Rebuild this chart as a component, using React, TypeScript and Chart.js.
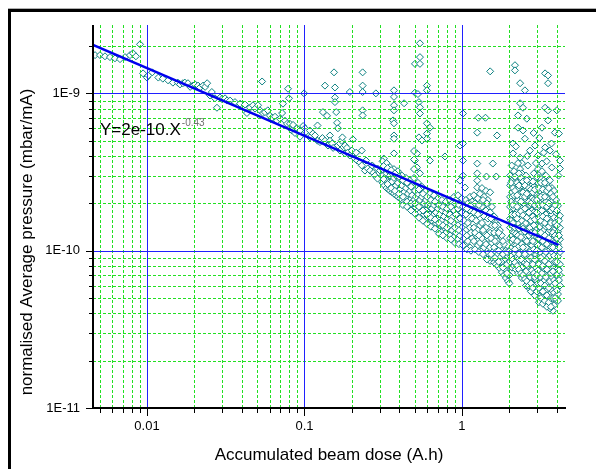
import React, { useEffect, useRef } from 'react';
import { Chart, registerables } from 'chart.js';

Chart.register(...registerables);

// ---------- axes ----------
const X_MIN = 0.00454;
const X_MAX = 4.51;
const Y_MIN = 1e-11;
const Y_MAX = 2.72e-9;

const xTickValues = [
  0.005, 0.006, 0.007, 0.008, 0.009, 0.01, 0.02, 0.03, 0.04, 0.05, 0.06, 0.07, 0.08, 0.09,
  0.1, 0.2, 0.3, 0.4, 0.5, 0.6, 0.7, 0.8, 0.9, 1, 2, 3, 4,
];
const xMajorTicks = [0.01, 0.1, 1];
const xMajorLabels = ['0.01', '0.1', '1'];

const yTickValues = [
  1e-11, 2e-11, 3e-11, 4e-11, 5e-11, 6e-11, 7e-11, 8e-11, 9e-11,
  1e-10, 2e-10, 3e-10, 4e-10, 5e-10, 6e-10, 7e-10, 8e-10, 9e-10,
  1e-9, 2e-9,
];
const yMajorTicks = [1e-11, 1e-10, 1e-9];
const yMajorLabels = ['1E-11', '1E-10', '1E-9'];

const xTitle = 'Accumulated beam dose (A.h)';
const yTitle = 'normalised Average pressure (mbar/mA)';
const fitLabel = 'Y=2e-10.X';
const fitExponent = '-0.43';

// fitted power law, end points (dose A.h, pressure mbar/mA)
const fitDose = [0.00454, 4.1];
const fitPressure = [2.03e-9, 1.09e-10];

// ---------- measured points: [dose (A.h), pressure (1e-10 mbar/mA)] ----------
const earlyPoints: [number, number][] = [
  [0.00468, 17.5], [0.00503, 17.5], [0.00541, 17.2], [0.00582, 17.0], [0.00626, 16.7], [0.00674, 16.5],
  [0.00725, 17.0], [0.0078, 17.5], [0.00814, 18.0], [0.0085, 17.2], [0.00903, 20.5], [0.00944, 13.4],
  [0.01, 12.6], [0.0102, 13.0], [0.0108, 13.6], [0.0118, 12.6], [0.0126, 12.4], [0.0136, 12.1],
  [0.0146, 11.7], [0.0157, 11.7], [0.0162, 11.4], [0.0169, 11.6], [0.0174, 11.7], [0.0182, 11.6],
  [0.0188, 11.0], [0.0196, 11.2], [0.0202, 11.4], [0.0211, 11.2], [0.0217, 10.9], [0.0227, 11.2],
  [0.0234, 11.0], [0.0241, 11.6], [0.0251, 9.7], [0.0258, 10.2], [0.027, 9.3], [0.0278, 8.1],
  [0.0291, 9.4], [0.0299, 9.2], [0.0313, 9.3], [0.0322, 9.0], [0.0337, 9.0],
  [0.0362, 8.8], [0.039, 8.6], [0.0419, 8.5], [0.0431, 7.5], [0.0451, 8.1], [0.0471, 8.4],
  [0.0485, 8.0], [0.0507, 8.4], [0.0522, 7.8], [0.0538, 11.9], [0.0545, 7.5], [0.0561, 7.6],
  [0.0585, 7.8], [0.0604, 7.2], [0.0622, 7.0], [0.065, 7.1], [0.0669, 6.7], [0.0699, 6.9],
  [0.0721, 7.5], [0.073, 8.6], [0.0752, 6.7], [0.0775, 6.4], [0.0786, 10.7], [0.0797, 9.3],
  [0.0809, 6.4], [0.0833, 5.8], [0.0846, 6.3], [0.087, 5.6], [0.0896, 6.0], [0.0936, 5.3],
  [0.0936, 5.8], [0.098, 6.2], [0.0994, 10.0], [0.1007, 6.0], [0.1022, 5.7],
];

const midPoints: [number, number][] = [
  [0.1083, 5.25], [0.1083, 5.8], [0.113, 5.55], [0.1166, 5.4], [0.121, 6.25], [0.121, 5.0],
  [0.1254, 4.9], [0.13, 5.2], [0.131, 7.6], [0.1349, 11.2], [0.1349, 5.0], [0.139, 7.2],
  [0.141, 4.66], [0.1451, 5.4], [0.1451, 5.0], [0.15, 4.8], [0.152, 4.5], [0.154, 13.6],
  [0.1561, 10.9], [0.1561, 9.4], [0.1561, 8.8], [0.159, 7.6], [0.161, 6.5], [0.163, 6.0],
  [0.163, 4.66], [0.168, 4.8], [0.168, 4.33], [0.172, 5.0], [0.174, 5.25], [0.181, 4.15],
  [0.181, 4.66], [0.186, 4.5], [0.188, 4.2], [0.194, 10.2], [0.194, 4.03], [0.2, 4.33],
  [0.203, 5.1], [0.209, 3.85], [0.213, 4.2], [0.216, 3.74], [0.225, 3.63], [0.231, 4.33],
  [0.231, 3.48], [0.234, 13.6], [0.234, 11.2], [0.234, 10.2], [0.234, 7.8], [0.234, 7.24],
  [0.242, 3.23], [0.246, 3.74], [0.252, 3.33], [0.261, 3.23], [0.269, 3.48], [0.273, 3.12],
  [0.28, 3.0], [0.284, 10.0], [0.291, 3.33], [0.291, 2.87], [0.302, 3.23],
];

const spikePoints: [number, number][] = [
  [0.319, 3.85], [0.319, 2.67], [0.337, 2.71],
  [0.37, 10.45], [0.37, 9.5], [0.37, 8.4], [0.37, 7.8], [0.365, 6.73], [0.37, 6.45],
  [0.37, 5.4], [0.37, 5.15], [0.37, 4.15], [0.429, 8.65], [0.541, 20.8], [0.541, 17.0],
  [0.503, 15.4], [0.541, 15.4], [0.599, 11.2], [0.599, 10.45], [0.503, 10.1], [0.525, 9.9],
  [0.533, 8.8], [0.541, 8.15], [0.541, 7.45], [0.599, 6.45], [0.626, 6.05], [0.599, 5.55],
  [0.599, 5.15], [0.533, 5.25], [0.557, 5.02], [0.518, 4.15], [0.503, 3.74], [0.518, 3.38],
  [0.541, 3.1], [0.78, 3.97], [0.626, 3.74], [1.015, 7.45], [0.971, 4.66], [1.015, 4.8],
  [1.015, 3.74], [1.015, 3.0], [1.045, 2.52], [0.971, 2.79],
  [1.27, 7.0], [1.41, 7.0], [1.25, 5.63], [1.67, 5.4], [1.25, 3.58], [1.57, 3.58],
  [1.43, 2.96], [1.65, 2.96], [1.25, 3.1], [1.25, 2.79], [1.25, 2.52], [1.51, 13.8],
  [2.17, 15.1], [2.17, 14.0], [2.34, 11.6], [2.51, 10.45], [2.34, 8.65], [2.44, 8.1],
  [2.27, 7.24], [2.58, 6.9], [2.27, 6.05], [2.44, 5.81], [2.51, 5.15], [2.11, 4.8],
  [2.11, 4.15], [2.34, 3.9], [3.37, 13.4], [3.52, 13.0], [3.52, 11.6], [3.37, 8.1],
  [3.52, 7.8], [4.0, 7.8], [3.52, 6.73], [3.22, 6.05], [3.89, 5.63], [4.13, 5.55],
  [3.37, 4.53], [3.62, 4.33], [3.22, 3.58], [3.72, 3.38], [4.19, 3.74], [4.19, 3.33],
  [2.7, 4.33], [2.91, 4.66], [2.62, 3.48], [3.04, 4.03], [2.07, 3.48], [3.78, 0.415],
  [2.2, 4.6], [2.6, 4.0], [2.95, 3.6], [3.1, 5.2], [3.3, 4.2], [3.7, 4.8], [3.95, 4.1],
  [4.1, 3.0], [2.4, 3.6], [2.85, 5.6], [3.45, 3.7],
];

// dense band between 0.3 and 2 A.h: [dose, pressures...]
const bandColumns: [number, number[]][] = [
  [0.313, [3.7, 3.3, 3.0, 2.7]], [0.322, [3.5, 2.9, 2.6]], [0.332, [3.6, 3.1, 2.8, 2.5]],
  [0.342, [3.2, 2.7, 2.45]], [0.349, [3.4, 3.0, 2.6, 2.4]], [0.36, [3.1, 2.75, 2.35]],
  [0.37, [3.3, 2.9, 2.5, 2.3]], [0.381, [3.0, 2.6, 2.25]], [0.392, [3.2, 2.7, 2.4, 2.2]],
  [0.404, [2.85, 2.45, 2.15]], [0.416, [3.0, 2.6, 2.3, 2.1]], [0.429, [2.75, 2.35, 2.05]],
  [0.441, [2.9, 2.5, 2.2, 2.0]], [0.454, [2.65, 2.3, 1.98]], [0.468, [2.8, 2.4, 2.1, 1.95]],
  [0.482, [2.6, 2.25, 1.9]], [0.496, [4.3, 3.8, 3.3, 2.9, 2.5, 2.1, 1.85]], [0.51, [2.55, 2.2, 1.88]],
  [0.525, [2.7, 2.3, 2.0, 1.8]], [0.541, [2.45, 2.1, 1.75]], [0.557, [2.55, 2.2, 1.9, 1.65]],
  [0.574, [2.35, 2.0, 1.7]], [0.591, [2.4, 2.1, 1.8, 1.6]], [0.608, [2.25, 1.95, 1.65]],
  [0.626, [2.3, 2.0, 1.7, 1.5]], [0.645, [2.15, 1.85, 1.55]], [0.664, [2.25, 1.95, 1.7, 1.45]],
  [0.684, [2.05, 1.75, 1.5]], [0.704, [2.15, 1.85, 1.6, 1.35]], [0.725, [2.0, 1.7, 1.45]],
  [0.746, [2.1, 1.8, 1.55, 1.32]], [0.768, [1.95, 1.65, 1.4]], [0.791, [2.05, 1.75, 1.5, 1.3]],
  [0.814, [1.9, 1.6, 1.38]], [0.839, [2.1, 1.7, 1.45, 1.25]], [0.864, [2.0, 1.62, 1.35]],
  [0.89, [2.2, 1.8, 1.5, 1.22]], [0.916, [2.1, 1.7, 1.3]], [0.943, [2.25, 1.85, 1.45, 1.18]],
  [0.971, [2.0, 1.6, 1.25]], [1.0, [2.15, 1.75, 1.4, 1.14]], [1.03, [1.95, 1.55, 1.2]],
  [1.06, [2.1, 1.7, 1.35, 1.1]], [1.09, [2.0, 1.5, 1.15]], [1.124, [2.2, 1.8, 1.4, 1.05]],
  [1.16, [2.05, 1.6, 1.2]], [1.19, [2.25, 1.75, 1.4, 1.15]], [1.23, [1.95, 1.55, 1.25]],
  [1.26, [2.15, 1.7, 1.35, 1.08]], [1.3, [2.3, 1.85, 1.45, 1.12]], [1.34, [2.5, 1.9, 1.5, 1.2, 1.0]],
  [1.38, [2.2, 1.65, 1.3, 1.05]], [1.42, [2.4, 1.8, 1.4, 1.1, 0.93]], [1.46, [2.1, 1.6, 1.2, 0.96]],
  [1.51, [2.35, 1.75, 1.3, 1.05, 0.86]], [1.55, [1.9, 1.45, 1.12, 0.9]], [1.6, [1.65, 1.3, 1.05, 0.84]],
  [1.64, [1.5, 1.2, 0.98, 0.82]], [1.69, [1.45, 1.15, 0.95, 0.8]], [1.74, [1.35, 1.08, 0.9, 0.77]],
  [1.79, [1.25, 1.0, 0.85, 0.73]], [1.85, [1.1, 0.93, 0.8, 0.7]], [1.9, [1.0, 0.88, 0.76, 0.67]],
  [1.96, [0.92, 0.8, 0.7, 0.64]], [2.0, [0.86, 0.7, 0.62]],
];

// second reading of the same band, between the columns above
const bandColumnsFill: [number, number[]][] = [
  [0.318, [3.45, 2.85]], [0.337, [3.35, 2.65]], [0.355, [3.25, 2.5]], [0.375, [3.1, 2.4]],
  [0.398, [2.95, 2.3]], [0.422, [2.8, 2.2, 1.95]], [0.448, [2.7, 2.05, 1.9]], [0.475, [2.55, 2.0, 1.8]],
  [0.503, [2.4, 2.0, 1.72]], [0.533, [2.45, 1.9, 1.62]], [0.565, [2.3, 1.8, 1.55]], [0.6, [2.2, 1.7, 1.48]],
  [0.635, [2.1, 1.62, 1.42]], [0.674, [2.05, 1.58, 1.38]], [0.715, [1.95, 1.5, 1.28]], [0.757, [1.9, 1.45, 1.25]],
  [0.803, [1.85, 1.4, 1.2]], [0.851, [1.9, 1.55, 1.18]], [0.903, [2.0, 1.4, 1.12]], [0.957, [1.95, 1.35, 1.1]],
  [1.015, [1.9, 1.3, 1.08]], [1.075, [1.85, 1.25, 1.02]], [1.14, [1.95, 1.3, 1.0]], [1.21, [2.0, 1.3, 1.02]],
  [1.28, [1.95, 1.25, 0.98]], [1.36, [2.1, 1.35, 0.95]], [1.44, [2.0, 1.25, 0.88]], [1.53, [1.6, 1.2, 0.95]],
  [1.62, [1.45, 1.15, 0.9]], [1.71, [1.3, 1.0, 0.85]], [1.82, [1.15, 0.95, 0.78]], [1.93, [0.98, 0.82, 0.72]],
];

// dense cloud above 2 A.h
const clusterColumns: [number, number[]][] = [
  [2.02, [3.0, 2.6, 2.2, 1.9, 1.6, 1.4, 1.2, 1.0, 0.85]],
  [2.08, [2.8, 2.35, 2.0, 1.7, 1.45, 1.25, 1.05, 0.9, 0.78]],
  [2.14, [3.2, 2.7, 2.25, 1.85, 1.55, 1.3, 1.1, 0.95, 0.8]],
  [2.2, [2.9, 2.45, 2.05, 1.75, 1.5, 1.28, 1.08, 0.9, 0.76]],
  [2.27, [3.6, 3.0, 2.5, 2.1, 1.8, 1.5, 1.25, 1.05, 0.88, 0.72]],
  [2.34, [3.3, 2.75, 2.3, 1.95, 1.65, 1.4, 1.15, 0.97, 0.8]],
  [2.4, [3.1, 2.6, 2.2, 1.85, 1.55, 1.3, 1.1, 0.92, 0.78, 0.67]],
  [2.47, [2.85, 2.4, 2.0, 1.7, 1.45, 1.2, 1.0, 0.85, 0.7]],
  [2.55, [3.0, 2.5, 2.1, 1.75, 1.5, 1.25, 1.05, 0.88, 0.74, 0.6]],
  [2.62, [2.7, 2.25, 1.9, 1.6, 1.35, 1.15, 0.95, 0.8, 0.66]],
  [2.7, [2.8, 2.35, 1.95, 1.65, 1.4, 1.18, 0.98, 0.82, 0.68, 0.57]],
  [2.78, [2.6, 2.15, 1.8, 1.5, 1.28, 1.08, 0.9, 0.75, 0.62]],
  [2.86, [3.1, 2.55, 2.1, 1.75, 1.45, 1.22, 1.02, 0.86, 0.72, 0.6, 0.54]],
  [2.95, [2.75, 2.3, 1.9, 1.6, 1.35, 1.12, 0.94, 0.78, 0.65]],
  [3.04, [3.3, 2.7, 2.2, 1.85, 1.55, 1.3, 1.08, 0.9, 0.75, 0.62, 0.5]],
  [3.13, [2.9, 2.4, 2.0, 1.7, 1.42, 1.18, 0.98, 0.82, 0.68, 0.56]],
  [3.22, [3.2, 2.6, 2.15, 1.8, 1.5, 1.25, 1.05, 0.87, 0.72, 0.6, 0.48]],
  [3.31, [2.8, 2.3, 1.95, 1.62, 1.35, 1.12, 0.93, 0.77, 0.64, 0.52]],
  [3.41, [3.0, 2.5, 2.05, 1.7, 1.42, 1.18, 0.98, 0.82, 0.68, 0.56, 0.45]],
  [3.51, [2.7, 2.2, 1.85, 1.55, 1.3, 1.08, 0.9, 0.75, 0.62, 0.5]],
  [3.62, [2.8, 2.3, 1.9, 1.6, 1.35, 1.12, 0.93, 0.78, 0.64, 0.53, 0.43]],
  [3.73, [2.5, 2.05, 1.7, 1.42, 1.18, 0.98, 0.82, 0.68, 0.56, 0.46]],
  [3.84, [2.4, 1.95, 1.62, 1.35, 1.12, 0.93, 0.78, 0.65, 0.54, 0.45]],
  [3.96, [2.1, 1.75, 1.45, 1.2, 1.0, 0.84, 0.7, 0.58, 0.5]],
  [4.07, [1.93, 1.6, 1.32, 1.1, 0.92, 0.77, 0.64, 0.53, 0.48]],
  [4.19, [1.67, 1.4, 1.18, 0.98, 0.82, 0.7, 0.6]],
];

// second reading of the cloud, between the columns above
const clusterColumnsFill: [number, number[]][] = [
  [2.05, [2.7, 2.05, 1.55, 1.15, 0.92]],
  [2.11, [2.5, 1.95, 1.5, 1.18, 0.88]],
  [2.17, [2.95, 2.4, 1.7, 1.4, 1.02, 0.84]],
  [2.24, [2.7, 2.25, 1.9, 1.6, 1.15, 0.8]],
  [2.3, [3.1, 2.6, 1.72, 1.38, 0.95, 0.76]],
  [2.37, [2.9, 2.05, 1.78, 1.22, 0.88, 0.72]],
  [2.44, [2.75, 2.35, 1.68, 1.38, 1.05, 0.7]],
  [2.51, [2.6, 2.2, 1.85, 1.32, 0.95, 0.66]],
  [2.58, [2.8, 2.3, 1.62, 1.15, 0.82, 0.64]],
  [2.66, [2.5, 2.05, 1.75, 1.25, 0.88, 0.6]],
  [2.74, [2.45, 2.0, 1.55, 1.3, 0.9, 0.62, 0.55]],
  [2.82, [2.75, 2.35, 1.65, 1.15, 0.82, 0.58]],
  [2.9, [2.45, 1.95, 1.58, 1.3, 0.88, 0.68, 0.52]],
  [2.99, [2.95, 2.1, 1.75, 1.22, 1.0, 0.7, 0.55]],
  [3.08, [2.5, 1.95, 1.62, 1.2, 0.82, 0.58, 0.47]],
  [3.17, [2.7, 2.2, 1.55, 1.3, 0.9, 0.62, 0.5]],
  [3.26, [2.45, 1.95, 1.65, 1.15, 0.8, 0.55, 0.46]],
  [3.36, [2.7, 2.2, 1.5, 1.25, 0.86, 0.6, 0.48]],
  [3.46, [2.4, 1.9, 1.6, 1.1, 0.76, 0.52, 0.44]],
  [3.56, [2.5, 2.0, 1.42, 1.2, 0.82, 0.58, 0.47]],
  [3.67, [2.3, 1.8, 1.5, 1.05, 0.72, 0.5, 0.44]],
  [3.78, [2.2, 1.85, 1.3, 1.05, 0.74, 0.5]],
  [3.9, [1.95, 1.5, 1.25, 0.85, 0.62, 0.5]],
  [4.01, [1.8, 1.45, 1.2, 0.85, 0.7, 0.56]],
  [4.13, [1.55, 1.25, 1.05, 0.75, 0.65]],
];

// ---------- styling ----------
const FONT = "'Liberation Sans', Arial, Helvetica, sans-serif";
const MAJOR_GRID = '#2020ff';
const MINOR_GRID = '#22e022';
const POINT_COLOR = '#0b8080';

const isMajor = (v: number, majors: number[]) => majors.some((m) => Math.abs(v - m) / m < 1e-6);
const labelFor = (v: number, majors: number[], labels: string[]) => {
  const i = majors.findIndex((m) => Math.abs(v - m) / m < 1e-6);
  return i >= 0 ? labels[i] : '';
};

const buildPoints = () => {
  const pairs: [number, number][] = [...earlyPoints, ...midPoints, ...spikePoints];
  for (const cols of [bandColumns, bandColumnsFill, clusterColumns, clusterColumnsFill]) {
    for (const [d, ps] of cols) for (const p of ps) pairs.push([d, p]);
  }
  return pairs.map(([d, p]) => ({ x: d, y: p * 1e-10 }));
};

const originPlugin = {
  id: 'originFrame',
  afterDatasetDraw(chart: any, args: any) {
    if (args.index !== 1) return;
    const { ctx, chartArea: ca, scales } = chart;
    const xs = scales.x;
    const ys = scales.y;
    ctx.save();
    ctx.lineWidth = 1;
    for (const pass of [0, 1]) {
      for (const v of xTickValues) {
        const major = isMajor(v, xMajorTicks);
        if ((pass === 1) !== major) continue;
        const px = Math.round(xs.getPixelForValue(v)) + 0.5;
        ctx.strokeStyle = major ? MAJOR_GRID : MINOR_GRID;
        ctx.setLineDash(major ? [] : [3, 2]);
        ctx.beginPath();
        ctx.moveTo(px, ca.top);
        ctx.lineTo(px, ca.bottom);
        ctx.stroke();
      }
      for (const v of yTickValues) {
        const major = isMajor(v, yMajorTicks);
        if ((pass === 1) !== major) continue;
        const py = Math.round(ys.getPixelForValue(v)) + 0.5;
        ctx.strokeStyle = major ? MAJOR_GRID : MINOR_GRID;
        ctx.setLineDash(major ? [] : [3, 2]);
        ctx.beginPath();
        ctx.moveTo(ca.left, py);
        ctx.lineTo(ca.right, py);
        ctx.stroke();
      }
    }
    ctx.restore();
  },
  afterDatasetsDraw(chart: any) {
    const { ctx, chartArea: ca, scales } = chart;
    const xs = scales.x;
    const ys = scales.y;
    ctx.save();
    ctx.setLineDash([]);
    ctx.strokeStyle = '#000';
    ctx.lineWidth = 1;
    for (const v of xTickValues) {
      const px = Math.round(xs.getPixelForValue(v)) + 0.5;
      const len = isMajor(v, xMajorTicks) ? 8 : 5;
      ctx.beginPath();
      ctx.moveTo(px, ca.bottom);
      ctx.lineTo(px, ca.bottom + len);
      ctx.stroke();
    }
    for (const v of yTickValues) {
      const py = Math.round(ys.getPixelForValue(v)) + 0.5;
      const len = isMajor(v, yMajorTicks) ? 7 : 4;
      ctx.beginPath();
      ctx.moveTo(ca.left, py);
      ctx.lineTo(ca.left - len, py);
      ctx.stroke();
    }
    ctx.lineWidth = 2;
    ctx.beginPath();
    ctx.moveTo(ca.left, ca.top);
    ctx.lineTo(ca.left, ca.bottom + 1);
    ctx.stroke();
    ctx.beginPath();
    ctx.moveTo(ca.left - 1, ca.bottom);
    ctx.lineTo(ca.right + 1, ca.bottom);
    ctx.stroke();

    ctx.fillStyle = '#000';
    ctx.font = `17px ${FONT}`;
    ctx.textAlign = 'left';
    ctx.textBaseline = 'alphabetic';
    ctx.fillText(fitLabel, 100, 135);
    const w = ctx.measureText(fitLabel).width;
    ctx.font = `10px ${FONT}`;
    ctx.fillStyle = '#707070';
    ctx.fillText(fitExponent, 100 + w + 1, 126);

    ctx.fillStyle = '#000';
    ctx.font = `17px ${FONT}`;
    ctx.textAlign = 'center';
    ctx.fillText(xTitle, (ca.left + ca.right) / 2, 460);
    ctx.translate(32, 242);
    ctx.rotate(-Math.PI / 2);
    ctx.fillText(yTitle, 0, 0);
    ctx.restore();
  },
};

export default function App() {
  const canvasRef = useRef<HTMLCanvasElement>(null);

  useEffect(() => {
    const canvas = canvasRef.current;
    if (!canvas) return;
    const chart = new Chart(canvas, {
      type: 'scatter',
      data: {
        datasets: [
          {
            label: 'fit',
            data: fitDose.map((d, i) => ({ x: d, y: fitPressure[i] })),
            showLine: true,
            borderColor: '#0000ee',
            borderWidth: 2.5,
            pointRadius: 0,
            fill: false,
          },
          {
            label: 'data',
            data: buildPoints(),
            pointStyle: 'rectRot',
            pointRadius: 3.5,
            pointBorderWidth: 1,
            pointBorderColor: POINT_COLOR,
            pointBackgroundColor: '#ffffff',
            borderColor: POINT_COLOR,
            backgroundColor: '#ffffff',
          },
        ],
      },
      options: {
        responsive: false,
        animation: false,
        devicePixelRatio: 1,
        events: [],
        layout: { padding: { left: 0, top: 25, right: 31, bottom: 0 } },
        plugins: { legend: { display: false }, tooltip: { enabled: false } },
        scales: {
          x: {
            type: 'logarithmic',
            position: 'bottom',
            min: X_MIN,
            max: X_MAX,
            grid: { display: false, drawTicks: false },
            border: { display: false },
            ticks: {
              autoSkip: false,
              maxRotation: 0,
              minRotation: 0,
              padding: 11,
              color: '#000',
              font: { family: FONT, size: 13 },
              callback: (v: any) => labelFor(Number(v), xMajorTicks, xMajorLabels),
            },
            afterBuildTicks: (s: any) => {
              s.ticks = xTickValues.map((value) => ({ value }));
            },
            afterFit: (s: any) => {
              s.height = 61;
            },
          },
          y: {
            type: 'logarithmic',
            position: 'left',
            min: Y_MIN,
            max: Y_MAX,
            grid: { display: false, drawTicks: false },
            border: { display: false },
            ticks: {
              autoSkip: false,
              padding: 13,
              color: '#000',
              font: { family: FONT, size: 13 },
              callback: (v: any) => labelFor(Number(v), yMajorTicks, yMajorLabels),
            },
            afterBuildTicks: (s: any) => {
              s.ticks = yTickValues.map((value) => ({ value }));
            },
            afterFit: (s: any) => {
              s.width = 93;
            },
          },
        },
      },
      plugins: [originPlugin],
    } as any);
    return () => chart.destroy();
  }, []);

  return (
    <div
      style={{
        position: 'absolute',
        left: 0,
        top: 0,
        width: 596,
        height: 469,
        background: '#fff',
        overflow: 'hidden',
      }}
    >
      <div
        style={{
          position: 'absolute',
          left: 8,
          top: 9,
          width: 620,
          height: 480,
          borderTop: '3px solid #000',
          borderLeft: '3px solid #000',
          boxShadow: '0 -1px 0 #b0b0b0',
        }}
      />
      <canvas
        ref={canvasRef}
        width={596}
        height={469}
        style={{ position: 'absolute', left: 0, top: 0, width: 596, height: 469 }}
      />
    </div>
  );
}
